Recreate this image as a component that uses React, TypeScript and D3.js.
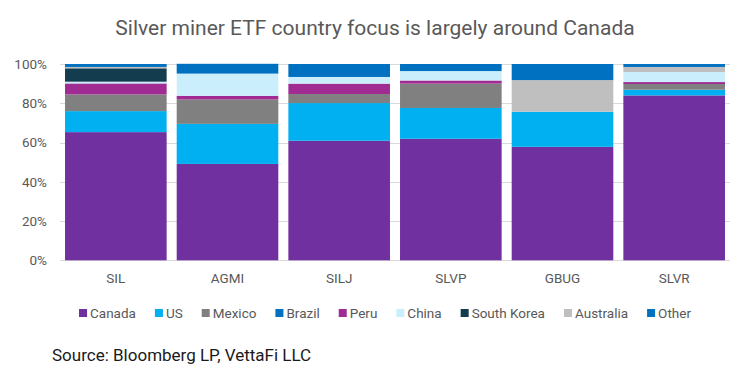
import React, { useEffect, useRef } from "react";
import * as d3 from "d3";

const title = "Silver miner ETF country focus is largely around Canada";
const source = "Source: Bloomberg LP, VettaFi LLC";
const funds = ["SIL", "AGMI", "SILJ", "SLVP", "GBUG", "SLVR"];
const countries = ["Canada", "US", "Mexico", "Brazil", "Peru", "China", "South Korea", "Australia", "Other"];
const canada = [65.3, 49.1, 60.9, 61.9, 57.8, 84.0];
const us = [10.7, 20.4, 19.2, 15.7, 17.9, 2.9];
const mexico = [8.5, 12.4, 4.6, 12.4, 0, 2.9];
const brazil = [0, 0, 0, 0, 0, 0];
const peru = [5.6, 1.9, 5.3, 1.6, 0, 1.0];
const china = [0.9, 11.3, 3.4, 4.8, 0, 5.1];
const southKorea = [6.8, 0, 0, 0, 0, 0];
const australia = [0.7, 0, 0, 0, 16.1, 2.6];
const other = [1.5, 5.0, 6.6, 3.6, 8.2, 1.5];
const yTicks = [0, 20, 40, 60, 80, 100];

const seriesValues = [canada, us, mexico, brazil, peru, china, southKorea, australia, other];
const colors = ["#7030A0", "#00B0F0", "#808080", "#0070C0", "#A02B93", "#CAEEFB", "#133C4F", "#BFBFBF", "#0070C0"];

const W = 750;
const H = 375;
const FONT = "Roboto, 'Liberation Sans', sans-serif";

export default function App() {
  const ref = useRef<SVGSVGElement | null>(null);

  useEffect(() => {
    const svg = d3.select(ref.current);
    svg.selectAll("*").remove();

    const rows = funds.map((f, i) => {
      const r: any = { fund: f };
      countries.forEach((c, k) => (r[c] = seriesValues[k][i]));
      return r;
    });
    const stacked = d3.stack<any>().keys(countries)(rows);

    const x = d3.scaleBand().domain(funds).range([60, 730]).paddingInner(0.09).paddingOuter(0.045);
    const y = d3.scaleLinear().domain([0, 100]).range([260.3, 64]);

    svg.append("rect").attr("width", W).attr("height", H).attr("fill", "#fff");

    svg.append("text")
      .attr("x", 375).attr("y", 35)
      .attr("text-anchor", "middle")
      .attr("font-family", FONT).attr("font-size", 21)
      .attr("fill", "#595959")
      .text(title);

    const g = svg.append("g");
    g.selectAll("line.grid").data(yTicks).join("line")
      .attr("x1", 60).attr("x2", 730)
      .attr("y1", (d) => Math.round(y(d)) + 0.5).attr("y2", (d) => Math.round(y(d)) + 0.5)
      .attr("stroke", "#D9D9D9").attr("stroke-width", 1);

    g.selectAll("text.ytick").data(yTicks).join("text")
      .attr("x", 47).attr("y", (d) => y(d))
      .attr("dy", "0.35em")
      .attr("text-anchor", "end")
      .attr("font-family", FONT).attr("font-size", 13.5)
      .attr("fill", "#595959")
      .text((d) => `${d}%`);

    stacked.forEach((s, k) => {
      g.append("g").selectAll("rect").data(s).join("rect")
        .attr("x", (d: any) => x(d.data.fund)!)
        .attr("width", x.bandwidth())
        .attr("y", (d: any) => y(d[1]))
        .attr("height", (d: any) => Math.max(0, y(d[0]) - y(d[1])))
        .attr("fill", colors[k]);
    });

    g.selectAll("text.xtick").data(funds).join("text")
      .attr("x", (d) => x(d)! + x.bandwidth() / 2)
      .attr("y", 278)
      .attr("dy", "0.35em")
      .attr("text-anchor", "middle")
      .attr("font-family", FONT).attr("font-size", 13.5)
      .attr("fill", "#595959")
      .text((d) => d);

    const leg = svg.append("g");
    const items = leg.selectAll("g").data(countries).join("g");
    items.append("rect").attr("width", 8).attr("height", 8).attr("y", -4)
      .attr("fill", (_d, i) => colors[i]);
    items.append("text").attr("x", 11).attr("dy", "0.35em")
      .attr("font-family", FONT).attr("font-size", 13.5)
      .attr("fill", "#595959")
      .text((d) => d);
    let cx = 0;
    const offsets: number[] = [];
    items.each(function () {
      offsets.push(cx);
      const t = d3.select(this).select("text").node() as SVGTextElement;
      cx += 11 + t.getComputedTextLength() + 19;
    });
    const total = cx - 19;
    const start = 385 - total / 2;
    items.attr("transform", (_d, i) => `translate(${start + offsets[i]},313)`);

    svg.append("text")
      .attr("x", 52).attr("y", 361)
      .attr("font-family", FONT).attr("font-size", 17)
      .attr("fill", "#1a1a1a")
      .text(source);
  }, []);

  return <svg ref={ref} width={W} height={H} style={{ display: "block", position: "absolute", left: 0, top: 0 }} />;
}
